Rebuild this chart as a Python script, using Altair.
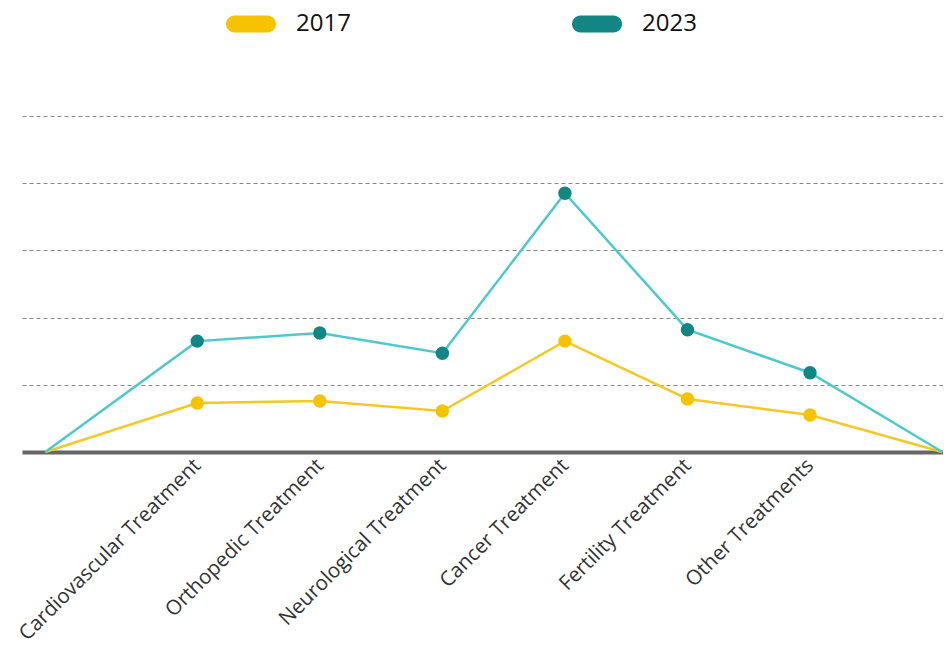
import altair as alt
import pandas as pd

categories = ["Cardiovascular Treatment", "Orthopedic Treatment", "Neurological Treatment",
              "Cancer Treatment", "Fertility Treatment", "Other Treatments"]
values_2017 = [0.73, 0.76, 0.61, 1.65, 0.79, 0.55]
values_2023 = [1.65, 1.77, 1.47, 3.85, 1.82, 1.18]
series = ["2017", "2023"]
edge_start = -0.24
edge_end = 7.08

rows = []
for s, vals in zip(series, [values_2017, values_2023]):
    rows.append({"series": s, "idx": edge_start, "value": 0.0, "cat": "", "pt": False})
    for i, (c, v) in enumerate(zip(categories, vals)):
        rows.append({"series": s, "idx": i + 1, "value": v, "cat": c, "pt": True})
    rows.append({"series": s, "idx": edge_end, "value": 0.0, "cat": "", "pt": False})
df = pd.DataFrame(rows)

label_expr = "[" + ",".join("'" + c + "'" for c in categories) + "][datum.value - 1]"

x = alt.X("idx:Q", scale=alt.Scale(domain=[-0.43, 7.085], nice=False, zero=False),
          axis=alt.Axis(values=[1, 2, 3, 4, 5, 6], labelExpr=label_expr, title=None,
                        labelAngle=-45, labelAlign="right", labelBaseline="middle",
                        labelFont="Open Sans", labelFontSize=20.5, labelColor="#333333",
                        labelPadding=10, labelLimit=0, labelOverlap=False, labelBound=False,
                        ticks=False, grid=False,
                        domainColor="#666666", domainWidth=4))
y = alt.Y("value:Q", scale=alt.Scale(domain=[0, 5], nice=False),
          axis=alt.Axis(values=[1, 2, 3, 4, 5], labels=False, ticks=False, domain=False,
                        title=None, grid=True, gridColor="#888888", gridDash=[4, 3],
                        gridWidth=1))

lines = alt.Chart(df).mark_line(strokeWidth=2.5).encode(
    x=x, y=y,
    color=alt.Color("series:N", scale=alt.Scale(domain=series, range=["#F5C82A", "#4EC9CB"]),
                    legend=None),
    detail="series:N",
)

pill = "M-1.94,-1 L1.94,-1 A1,1 0 0 1 1.94,1 L-1.94,1 A1,1 0 0 1 -1.94,-1 Z"

points = alt.Chart(df).transform_filter("datum.pt").mark_point(filled=True, size=180, opacity=1).encode(
    x=x, y=y,
    color=alt.Color("series:N", scale=alt.Scale(domain=series, range=["#F7C300", "#128585"]),
                    legend=alt.Legend(title=None, orient="none", direction="horizontal",
                                      legendX=217, legendY=-104, padding=0,
                                      symbolType=pill, symbolSize=289, symbolStrokeWidth=0,
                                      symbolOpacity=1, labelOffset=33, columnPadding=221,
                                      labelFont="Open Sans", labelFontSize=24,
                                      labelColor="#111111")),
)

chart = alt.layer(lines, points).resolve_scale(color="independent").properties(
    width=921, height=336,
    autosize=alt.AutoSizeParams(type="none"),
    padding={"left": 14, "top": 108, "right": 0, "bottom": 195},
).configure_view(stroke=None)

chart.save("out.html", embed_options={"renderer": "svg", "actions": False})
